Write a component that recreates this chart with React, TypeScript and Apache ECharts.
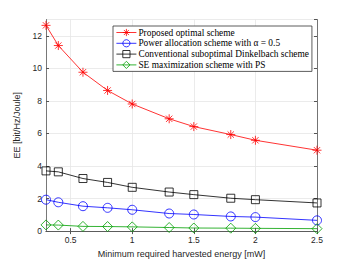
import React, { useEffect, useRef } from "react";
import * as echarts from "echarts";

const xValues = [0.3, 0.4, 0.6, 0.8, 1.0, 1.3, 1.5, 1.8, 2.0, 2.5];
const proposed = [12.64, 11.4, 9.76, 8.64, 7.81, 6.9, 6.42, 5.93, 5.58, 4.97];
const powerAlloc = [1.93, 1.77, 1.53, 1.43, 1.31, 1.08, 1.02, 0.9, 0.86, 0.66];
const dinkelbach = [3.7, 3.64, 3.23, 2.99, 2.69, 2.4, 2.24, 2.02, 1.93, 1.73];
const seMax = [0.38, 0.37, 0.29, 0.28, 0.26, 0.22, 0.19, 0.18, 0.17, 0.15];
const seriesNames = [
  "Proposed optimal scheme",
  "Power allocation scheme with α = 0.5",
  "Conventional suboptimal Dinkelbach scheme",
  "SE maximization scheme with PS",
];
const xTicks = [0.5, 1, 1.5, 2, 2.5];

const asterisk =
  "path://M5,0L5,10M0,5L10,5M1.5,1.5L8.5,8.5M1.5,8.5L8.5,1.5";

export default function App() {
  const ref = useRef<HTMLDivElement>(null);
  useEffect(() => {
    if (!ref.current) return;
    const chart = echarts.init(ref.current, null, { renderer: "svg" });
    const pairs = (ys: number[]) => xValues.map((x, i) => [x, ys[i]]);
    const axisColor = "#555";
    const sans = "Liberation Sans";
    const mk = (
      name: string,
      ys: number[],
      color: string,
      symbol: string,
      size: number
    ) => ({
      name,
      type: "line",
      data: pairs(ys),
      symbol,
      symbolSize: size,
      showAllSymbol: true,
      lineStyle: { color, width: 0.8 },
      itemStyle: { color: "rgba(0,0,0,0)", borderColor: color, borderWidth: 0.8 },
      emphasis: { disabled: true },
    });
    chart.setOption({
      animation: false,
      backgroundColor: "#fff",
      grid: { left: 46, right: 33, top: 19.5, bottom: 29.5 },
      legend: {
        orient: "vertical",
        left: 113,
        top: 26,
        itemWidth: 20,
        itemHeight: 9,
        itemGap: 1.8,
        padding: [2, 3, 2, 3],
        borderColor: "#333",
        borderWidth: 0.8,
        backgroundColor: "#fff",
        itemStyle: { color: "rgba(0,0,0,0)", borderWidth: 0.8 },
        lineStyle: { width: 0.8 },
        textStyle: { fontFamily: "Liberation Serif", fontSize: 9.4, color: "#000", padding: [0, 0, 0, -3] },
        data: seriesNames,
      },
      xAxis: [
        {
          type: "value",
          min: 0.3,
          max: 2.5,
          name: "Minimum required harvested energy [mW]",
          nameLocation: "middle",
          nameGap: 17,
          nameTextStyle: { fontFamily: sans, fontSize: 9, color: "#262626" },
          axisLine: { lineStyle: { color: axisColor, width: 0.8 } },
          axisTick: { inside: true, length: 3, customValues: xTicks, lineStyle: { color: axisColor } },
          axisLabel: { customValues: xTicks, fontFamily: sans, fontSize: 8.5, color: "#262626", margin: 4 },
          splitLine: { show: true, lineStyle: { color: "#e6e6e6", width: 0.8 } },
        },
        {
          type: "value",
          position: "top",
          min: 0.3,
          max: 2.5,
          axisLine: { show: true, lineStyle: { color: axisColor, width: 0.8 } },
          axisTick: { show: true, inside: true, length: 3, customValues: xTicks, lineStyle: { color: axisColor } },
          axisLabel: { show: false },
          splitLine: { show: false },
        },
      ],
      yAxis: [
        {
          type: "value",
          min: 0,
          max: 13,
          interval: 2,
          name: "EE [bit/Hz/Joule]",
          nameLocation: "middle",
          nameGap: 13,
          nameTextStyle: { fontFamily: sans, fontSize: 9, color: "#262626" },
          axisLine: { show: true, lineStyle: { color: axisColor, width: 0.8 } },
          axisTick: { show: true, inside: true, length: 3, lineStyle: { color: axisColor } },
          axisLabel: { fontFamily: sans, fontSize: 8.5, color: "#262626", margin: 4, showMaxLabel: false },
          splitLine: { show: true, lineStyle: { color: "#e6e6e6", width: 0.8 } },
        },
        {
          type: "value",
          position: "right",
          min: 0,
          max: 13,
          interval: 2,
          axisLine: { show: true, lineStyle: { color: axisColor, width: 0.8 } },
          axisTick: { show: true, inside: true, length: 3, lineStyle: { color: axisColor } },
          axisLabel: { show: false },
          splitLine: { show: false },
        },
      ],
      series: [
        mk(seriesNames[0], proposed, "#ff0000", asterisk, 9),
        mk(seriesNames[1], powerAlloc, "#0000ff", "circle", 9),
        mk(seriesNames[2], dinkelbach, "#000000", "rect", 8),
        mk(seriesNames[3], seMax, "#00a000", "diamond", 10),
      ],
    });
    return () => chart.dispose();
  }, []);
  return (
    <div
      ref={ref}
      style={{ position: "fixed", left: 0, top: 0, width: 350, height: 263 }}
    />
  );
}
